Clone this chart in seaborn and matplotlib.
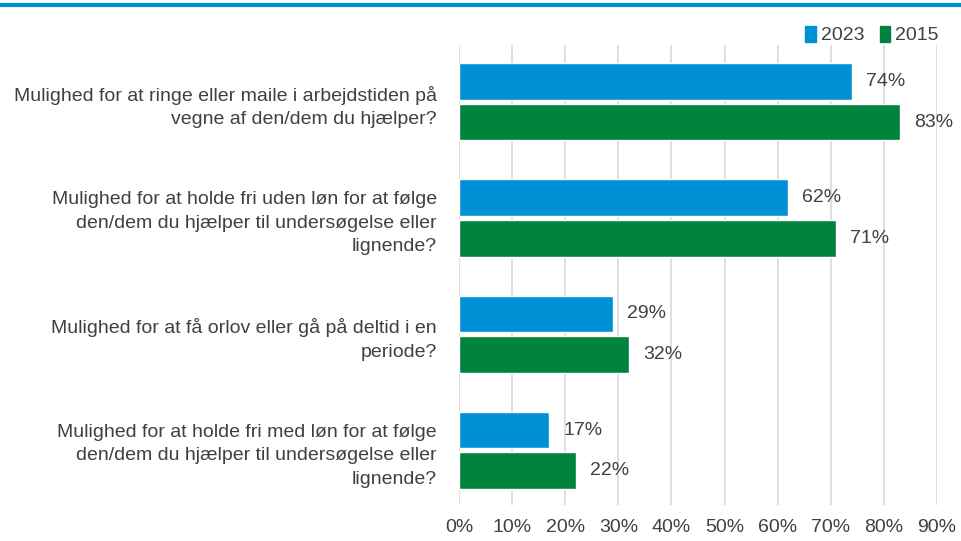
import pandas as pd
import matplotlib.pyplot as plt
import seaborn as sns
from matplotlib.lines import Line2D
from matplotlib.ticker import PercentFormatter

sns.set_theme(style="white")
plt.rcParams['font.family'] = ['Liberation Sans', 'DejaVu Sans']

questions = [
    "Mulighed for at ringe eller maile i arbejdstiden på\nvegne af den/dem du hjælper?",
    "Mulighed for at holde fri uden løn for at følge\nden/dem du hjælper til undersøgelse eller\nlignende?",
    "Mulighed for at få orlov eller gå på deltid i en\nperiode?",
    "Mulighed for at holde fri med løn for at følge\nden/dem du hjælper til undersøgelse eller\nlignende?",
]
years = ["2023", "2015"]
share_2023 = [0.74, 0.62, 0.29, 0.17]
share_2015 = [0.83, 0.71, 0.32, 0.22]

my_palette = ["#0090d6", "#00843d"]
text_col = "#404040"

df = pd.DataFrame({
    "Spørgsmål": questions * 2,
    "År": [years[0]] * 4 + [years[1]] * 4,
    "Andel": share_2023 + share_2015,
})

fig = plt.figure(figsize=(9.61, 5.41), dpi=100)
ax = fig.add_axes([0.4776, 0.0665, 0.4975, 0.8505])

f = sns.barplot(data=df, y="Spørgsmål", x="Andel", hue="År", hue_order=years,
                palette=my_palette, orient="h", width=0.7, gap=0.1,
                saturation=1, ax=ax, zorder=3)
f.get_legend().remove()

for cont in f.containers:
    f.bar_label(cont, labels=[f"{v*100:.0f}%" for v in cont.datavalues],
                padding=10, fontsize=14, color=text_col)

f.set_xlim(0, 0.9)
f.set_ylim(3.47, -0.49)
f.set_xticks([i / 10 for i in range(10)])
f.xaxis.set_major_formatter(PercentFormatter(1.0, decimals=0))
f.grid(axis="x", color="#d9d9d9", lw=1.2, zorder=0)
for s in f.spines.values():
    s.set_visible(False)
f.set_xlabel("")
f.set_ylabel("")
f.tick_params(axis="x", labelsize=14, labelcolor=text_col, pad=10, length=0)
f.tick_params(axis="y", labelsize=14, labelcolor=text_col, pad=16, length=0)
for t in f.get_yticklabels():
    t.set_multialignment("right")
    t.set_linespacing(1.5)

handles = [plt.Rectangle((0, 0), 1, 1, color=c) for c in my_palette]
fig.legend(handles, years, loc="upper right", bbox_to_anchor=(0.995, 0.985),
           ncol=2, frameon=False, fontsize=14, handlelength=0.55, handleheight=0.9,
           handletextpad=0.25, columnspacing=0.8, labelcolor=text_col)

fig.add_artist(Line2D([0, 1], [1 - 5 / 541] * 2, color="#0090d6", lw=3,
                      transform=fig.transFigure))

fig.savefig("out.png", dpi=100)
